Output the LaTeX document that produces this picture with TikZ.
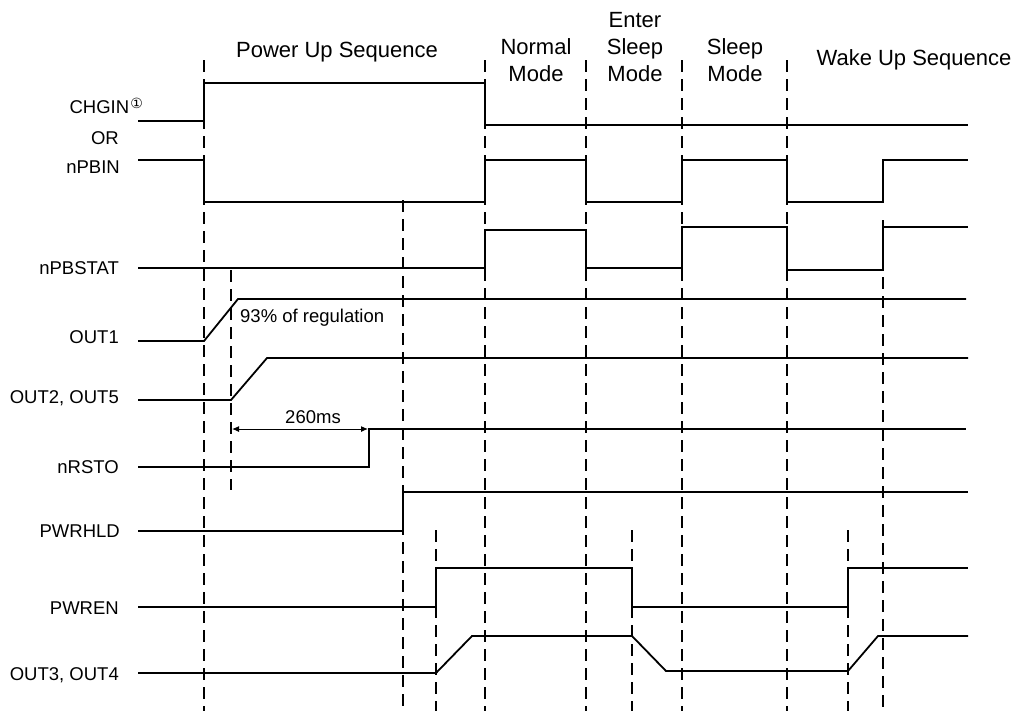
\documentclass[tikz,border=0pt]{standalone}
\usepackage{fontspec}
\setmainfont{Liberation Sans}
\newfontfamily\symfont{DejaVu Sans}
\usetikzlibrary{arrows.meta,positioning}

\begin{document}
\begin{tikzpicture}[x=1pt,y=-1pt, every node/.style={font=\fontsize{18.5}{20}\selectfont,inner sep=0pt}, lbl/.style={anchor=base east}, head/.style={font=\fontsize{22}{27}\selectfont,align=center}, sig/.style={line width=1.8pt,line join=miter}, guide/.style={line width=1.5pt,dash pattern=on 12pt off 7pt}, dim/.style={{Latex[length=7pt,width=6pt]}-{Latex[length=7pt,width=6pt]},line width=1pt}]
\useasboundingbox (0,0) rectangle (1018,713);
\node[head] (pwrup) at (337,52) {Power Up Sequence};
\node[head] (normal) at (536,60) {Normal\\Mode};
\node[head] (enter) at (635,47) {Enter\\Sleep\\Mode};
\node[head] (sleep) at (735,60) {Sleep\\Mode};
\node[head] (wake) at (914,60) {Wake Up Sequence};
\node[lbl] (chgin) at (143,113.6) {CHGIN\hspace{1pt}\raisebox{5pt}{\symfont\fontsize{14}{14}\selectfont ①}};
\node[lbl] (or) at (119,144.6) {OR};
\node[lbl] (npbin) at (120,173.6) {nPBIN};
\node[lbl] (npbstat) at (119,274.6) {nPBSTAT};
\node[lbl] (out1) at (119,343) {OUT1};
\node[lbl] (out25) at (119,403) {OUT2, OUT5};
\node[lbl] (nrsto) at (119,473) {nRSTO};
\node[lbl] (pwrhld) at (120,537) {PWRHLD};
\node[lbl] (pwren) at (119,614) {PWREN};
\node[lbl] (out34) at (119,680) {OUT3, OUT4};
\foreach \x/\t in {204/60,485/60,586/60,682/60,787/60,403/200,883/220,436/530,632/530,848/530}
  \draw[guide] (\x,\t) -- (\x,711);
\draw[guide] (231,270) -- (231,490);
\draw[sig] (138,121) -- (204,121) -- (204,83) -- (485,83) -- (485,125) -- (968,125);
\draw[sig] (138,160) -- (204,160) -- (204,202) -- (485,202) -- (485,160) -- (586,160) -- (586,202) -- (682,202) -- (682,160) -- (787,160) -- (787,202) -- (883,202) -- (883,160) -- (968,160);
\draw[sig] (138,268) -- (485,268) -- (485,230) -- (586,230) -- (586,268) -- (682,268) -- (682,227) -- (787,227) -- (787,270) -- (883,270) -- (883,227) -- (968,227);
\draw[sig] (138,341) -- (204,341) -- (238,299) -- (966,299);
\draw[sig] (138,400) -- (231,400) -- (267,358) -- (968,358);
\draw[sig] (138,467) -- (369,467) -- (369,429) -- (966,429);
\draw[sig] (138,531) -- (403,531) -- (403,492) -- (968,492);
\draw[sig] (138,607) -- (436,607) -- (436,568) -- (632,568) -- (632,607) -- (848,607) -- (848,568) -- (968,568);
\draw[sig] (138,673) -- (436,673) -- (472,636) -- (632,636) -- (666,671) -- (848,671) -- (878,636) -- (968,636);
\node[anchor=base west] (reg) at (240,322.6) {93\% of regulation};
\coordinate (tstart) at (232,429);
\coordinate (trst) at (368,429);
\draw[dim] (tstart) -- (trst);
\node[anchor=base] (delay) at (313,423) {260ms};
\end{tikzpicture}
\end{document}
